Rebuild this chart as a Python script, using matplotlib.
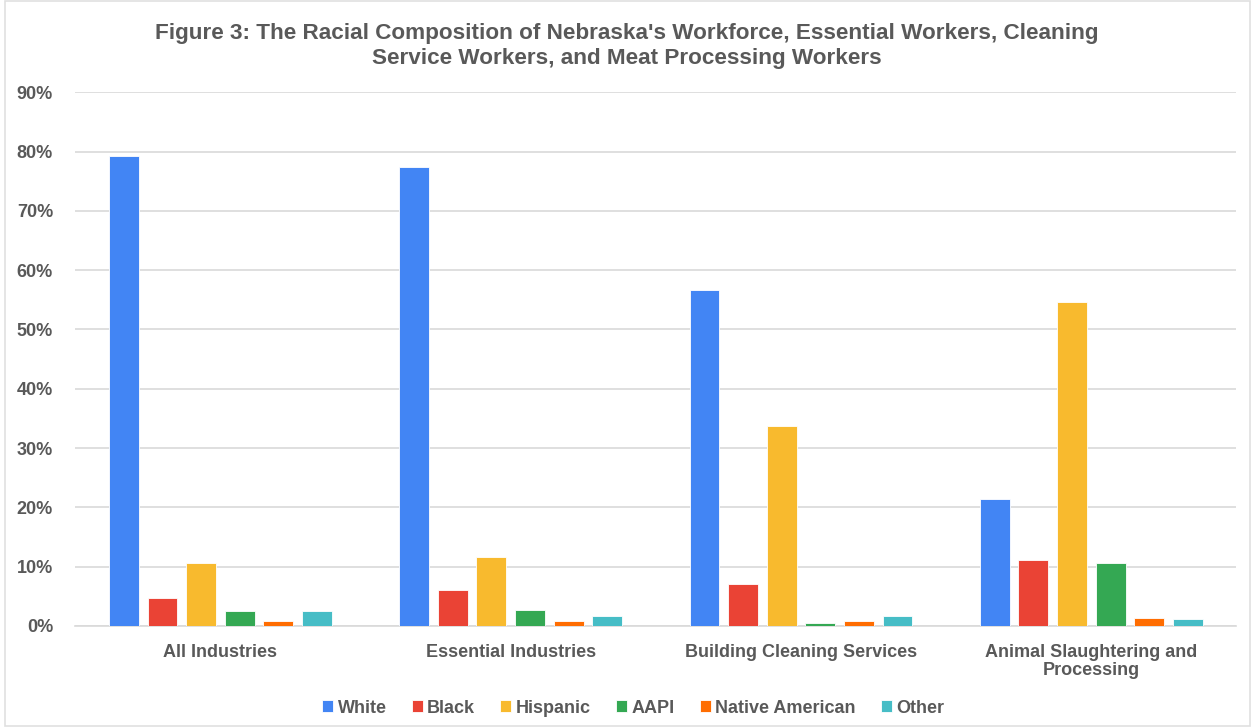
import matplotlib

matplotlib.use("Agg")
import matplotlib.pyplot as plt
import numpy as np
from matplotlib.patches import Rectangle
from matplotlib.ticker import PercentFormatter

plt.rcParams["font.family"] = ["Liberation Sans", "DejaVu Sans"]

categories = ["All Industries", "Essential Industries",
              "Building Cleaning Services",
              "Animal Slaughtering and\nProcessing"]
groups = ["White", "Black", "Hispanic", "AAPI", "Native American", "Other"]

white = [79.3, 77.4, 56.7, 21.4]
black = [4.7, 6.0, 7.1, 11.1]
hispanic = [10.6, 11.7, 33.7, 54.6]
aapi = [2.5, 2.7, 0.5, 10.6]
native = [0.8, 0.8, 0.8, 1.3]
other = [2.5, 1.6, 1.6, 1.1]

series = [white, black, hispanic, aapi, native, other]
colors = ["#4285F4", "#EA4335", "#F8BA2E", "#34A853", "#FF6D01", "#46BDC6"]
TEXT = "#595959"

fig = plt.figure(figsize=(12.54, 7.27), dpi=100)
ax = fig.add_axes([0.06, 0.139, 0.926, 0.734])

# thin light frame around the chart, like the exported image
fig.patches.append(Rectangle((0.004, 0.002), 0.993, 0.996, transform=fig.transFigure,
                             fill=False, edgecolor="#e0e0e0", linewidth=1.2))

x = np.arange(len(categories))
step = 0.133
width = 0.103
for i, (vals, name, c) in enumerate(zip(series, groups, colors)):
    ax.bar(x + (i - 2.5) * step, vals, width, color=c, label=name,
           edgecolor="white", linewidth=0.6, zorder=3)

ax.set_xlim(-0.5, len(categories) - 0.5)
ax.set_ylim(0, 90)
ax.set_yticks(np.arange(0, 91, 10))
ax.yaxis.set_major_formatter(PercentFormatter(decimals=0))
ax.grid(axis="y", color="#d9d9d9", linewidth=1.2, zorder=0)
for s in ["top", "right", "left"]:
    ax.spines[s].set_visible(False)
ax.spines["bottom"].set_color("#d9d9d9")
ax.spines["bottom"].set_linewidth(1.2)
ax.tick_params(length=0, colors=TEXT)
ax.tick_params(axis="y", pad=16)
ax.tick_params(axis="x", pad=13)
ax.set_xticks(x)
ax.set_xticklabels(categories, fontsize=13, fontweight="bold", color=TEXT,
                   linespacing=1.1)
for lab in ax.get_yticklabels():
    lab.set_fontsize(13)
    lab.set_fontweight("bold")
    lab.set_color(TEXT)

fig.suptitle("Figure 3: The Racial Composition of Nebraska's Workforce, Essential Workers, Cleaning\n"
             "Service Workers, and Meat Processing Workers",
             fontsize=16.2, fontweight="bold", color=TEXT, y=0.968, linespacing=1.22)

leg = fig.legend(loc="lower center", ncol=6, frameon=False,
                 bbox_to_anchor=(0.505, -0.008), handlelength=0.6, handleheight=0.6,
                 handletextpad=0.25, columnspacing=1.4,
                 prop={"size": 13, "weight": "bold"})
for t in leg.get_texts():
    t.set_color(TEXT)

fig.savefig("out.png", dpi=100, facecolor="white")
